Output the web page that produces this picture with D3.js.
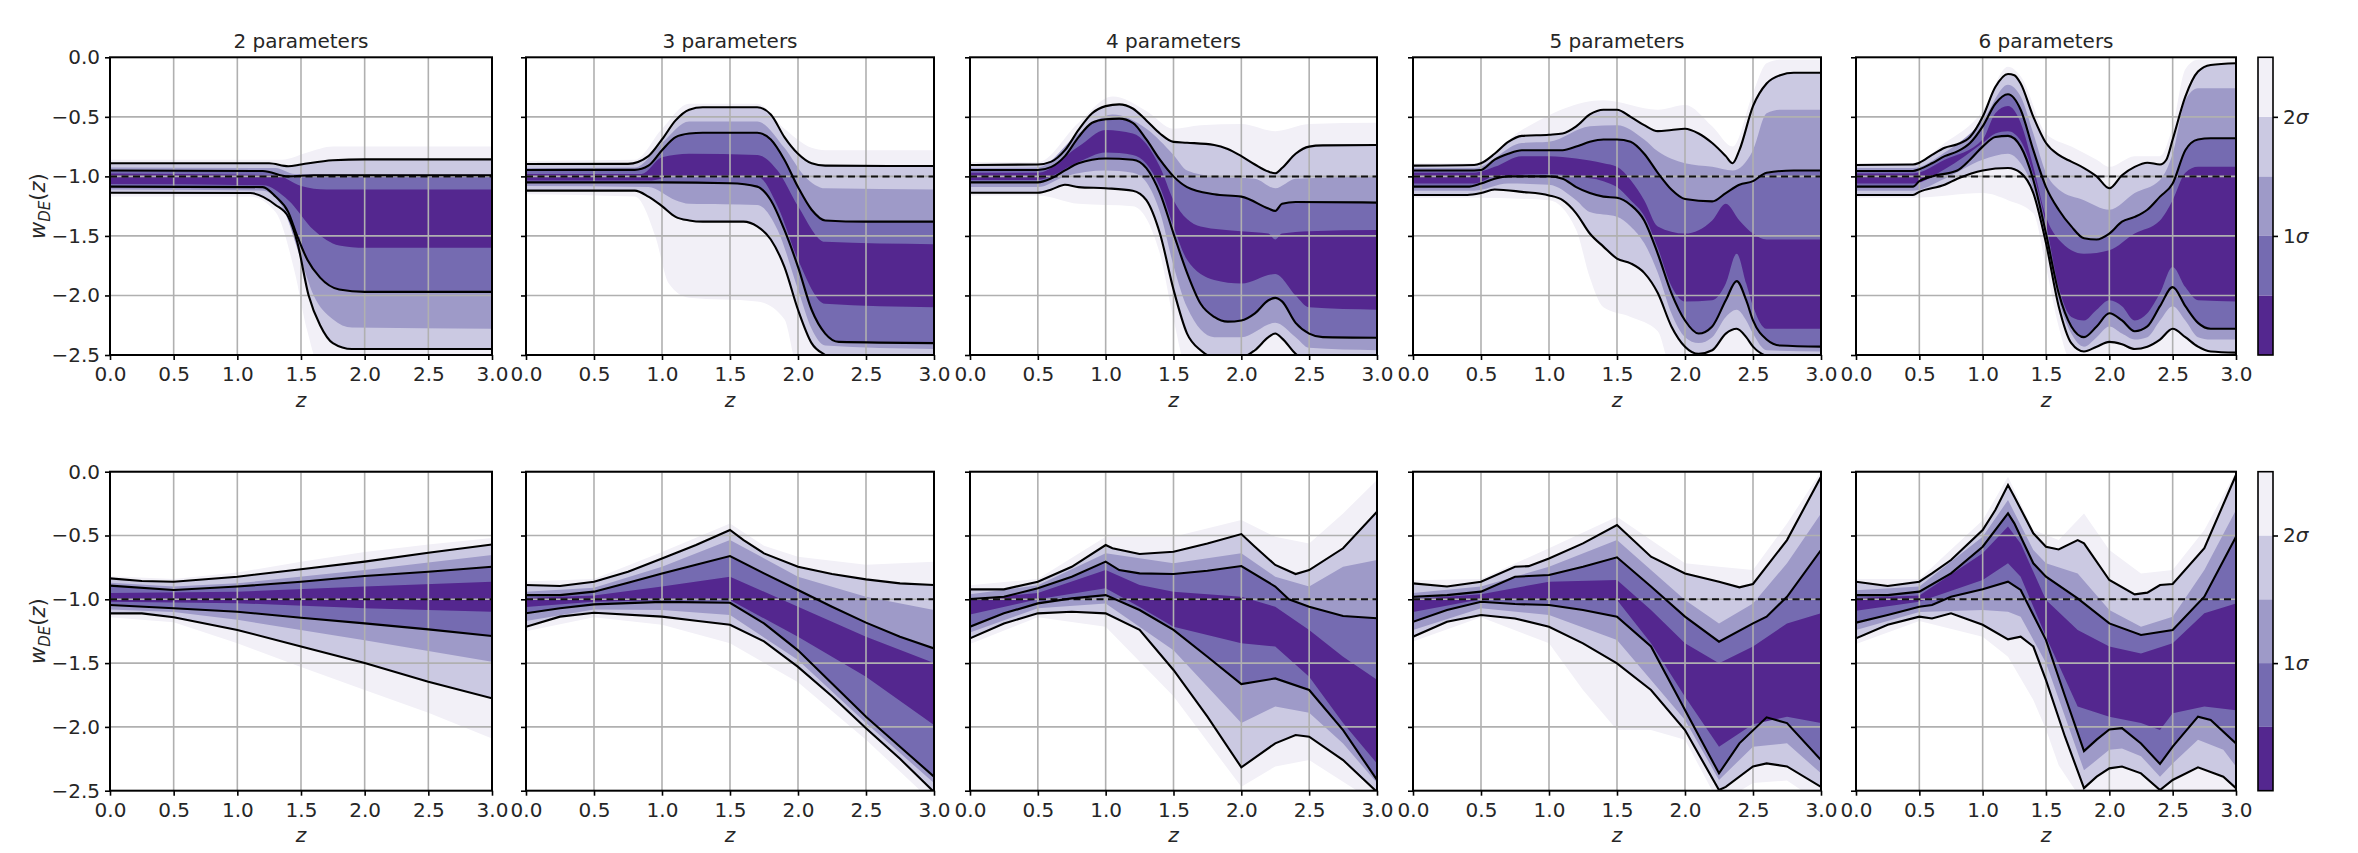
<!DOCTYPE html>
<html>
<head>
<meta charset="utf-8">
<script src="https://cdn.jsdelivr.net/npm/d3@7"></script>
<style>
  body { margin: 0; background: #fff; }
  text { font-family: "DejaVu Sans", sans-serif; fill: #262626; }
</style>
</head>
<body>
<script>

// DATA  (each band: [upper curve, lower curve], curves are [z, w] knots)

var titles = ['2 parameters', '3 parameters', '4 parameters', '5 parameters', '6 parameters'];
var zTicks = [0, 0.5, 1, 1.5, 2, 2.5, 3];
var wTicks = [0, -0.5, -1, -1.5, -2, -2.5];
var sigmaEdges = [0, 0.5, 1, 1.5, 2];
var sigmaTicks = [1, 2];

var T1 = {
  s25: [[[0,-0.86],[1.35,-0.86],[1.55,-0.8],[1.75,-0.75],[3,-0.75]],
        [[0,-1.17],[1.1,-1.17],[1.3,-1.3],[1.45,-1.8],[1.55,-2.3],[1.65,-2.6],[3,-2.6]]],
  s2:  [[[0,-0.89],[1.25,-0.89],[1.4,-0.915],[1.5,-0.9],[1.75,-0.865],[2,-0.857],[3,-0.857]],
        [[0,-1.137],[1.1,-1.14],[1.3,-1.24],[1.4,-1.34],[1.47,-1.55],[1.56,-2.0],[1.65,-2.25],[1.75,-2.4],[1.9,-2.45],[3,-2.45]]],
  s15: [[[0,-0.925],[1.3,-0.93],[1.45,-0.98],[3,-0.985]],
        [[0,-1.11],[1.2,-1.12],[1.35,-1.25],[1.5,-1.7],[1.6,-2.0],[1.75,-2.2],[1.9,-2.27],[3,-2.28]]],
  s1:  [[[0,-0.95],[1.2,-0.955],[1.4,-1.0],[1.6,-0.99],[3,-0.99]],
        [[0,-1.086],[1.2,-1.09],[1.3,-1.17],[1.4,-1.3],[1.47,-1.5],[1.55,-1.7],[1.65,-1.85],[1.8,-1.95],[2,-1.97],[3,-1.97]]],
  s05: [[[0,-0.975],[1.3,-0.99],[1.5,-1.08],[1.7,-1.11],[3,-1.11]],
        [[0,-1.065],[1.2,-1.075],[1.4,-1.2],[1.6,-1.45],[1.8,-1.58],[2,-1.6],[3,-1.6]]]
};

var T2 = {
  s25: [[[0,-0.87],[0.8,-0.86],[1.0,-0.6],[1.2,-0.39],[1.7,-0.39],[1.9,-0.6],[2.1,-0.76],[2.2,-0.78],[3,-0.78]],
        [[0,-1.15],[0.8,-1.17],[0.95,-1.5],[1.05,-1.9],[1.2,-2.02],[1.7,-2.05],[1.9,-2.2],[2.0,-2.6],[3,-2.6]]],
  s2:  [[[0,-0.896],[0.75,-0.895],[0.9,-0.83],[1.0,-0.69],[1.1,-0.53],[1.2,-0.44],[1.3,-0.42],[1.7,-0.42],[1.8,-0.48],[1.9,-0.67],[2.0,-0.81],[2.1,-0.89],[2.2,-0.91],[3,-0.913]],
        [[0,-1.12],[0.8,-1.12],[0.9,-1.17],[1.0,-1.25],[1.1,-1.34],[1.2,-1.37],[1.3,-1.38],[1.6,-1.38],[1.7,-1.42],[1.8,-1.53],[1.9,-1.76],[2.0,-2.12],[2.1,-2.4],[2.2,-2.5],[2.3,-2.56],[3,-2.56]]],
  s15: [[[0,-0.93],[0.8,-0.925],[1.0,-0.72],[1.2,-0.54],[1.7,-0.54],[1.9,-0.76],[2.05,-1.0],[2.2,-1.1],[3,-1.11]],
        [[0,-1.08],[0.9,-1.09],[1.1,-1.2],[1.2,-1.23],[1.7,-1.24],[1.85,-1.45],[2.0,-1.95],[2.1,-2.28],[2.2,-2.42],[3,-2.45]]],
  s1:  [[[0,-0.946],[0.8,-0.945],[0.9,-0.91],[1.0,-0.78],[1.1,-0.67],[1.2,-0.64],[1.3,-0.633],[1.7,-0.633],[1.8,-0.69],[1.9,-0.86],[2.0,-1.09],[2.1,-1.28],[2.2,-1.37],[2.5,-1.38],[3,-1.38]],
        [[0,-1.05],[1.0,-1.05],[1.5,-1.058],[1.7,-1.086],[1.8,-1.2],[1.9,-1.45],[2.0,-1.76],[2.1,-2.12],[2.2,-2.32],[2.3,-2.39],[3,-2.4]]],
  s05: [[[0,-0.98],[0.85,-0.98],[1.0,-0.84],[1.2,-0.81],[1.7,-0.82],[1.85,-0.95],[2.0,-1.25],[2.2,-1.55],[3,-1.57]],
        [[0,-1.035],[0.9,-1.035],[1.1,-1.0],[1.7,-1.0],[1.85,-1.25],[2.0,-1.7],[2.2,-2.07],[3,-2.1]]]
};

var T3 = {
  s25: [[[0,-0.88],[0.5,-0.88],[0.8,-0.55],[1.05,-0.33],[1.3,-0.45],[1.5,-0.6],[1.7,-0.57],[2.0,-0.56],[2.25,-0.62],[2.5,-0.56],[3,-0.55]],
        [[0,-1.16],[0.5,-1.16],[0.8,-1.23],[1.2,-1.25],[1.4,-1.65],[1.5,-2.2],[1.6,-2.6],[3,-2.6]]],
  s2:  [[[0,-0.904],[0.5,-0.9],[0.6,-0.876],[0.7,-0.78],[0.8,-0.61],[0.9,-0.47],[1.0,-0.41],[1.1,-0.395],[1.2,-0.43],[1.3,-0.53],[1.4,-0.64],[1.5,-0.71],[1.6,-0.717],[1.8,-0.736],[1.9,-0.77],[2.0,-0.83],[2.1,-0.9],[2.2,-0.96],[2.25,-0.974],[2.3,-0.93],[2.4,-0.81],[2.5,-0.75],[2.6,-0.74],[3,-0.736]],
        [[0,-1.137],[0.5,-1.137],[0.6,-1.11],[0.7,-1.07],[0.8,-1.09],[1.0,-1.1],[1.2,-1.12],[1.3,-1.2],[1.4,-1.48],[1.5,-1.95],[1.6,-2.32],[1.7,-2.46],[1.8,-2.52],[2.0,-2.52],[2.1,-2.46],[2.2,-2.35],[2.25,-2.32],[2.3,-2.36],[2.4,-2.49],[2.5,-2.56],[3,-2.6]]],
  s15: [[[0,-0.93],[0.5,-0.925],[0.8,-0.64],[1.05,-0.48],[1.3,-0.6],[1.5,-0.82],[1.6,-0.95],[1.8,-1.0],[2.1,-1.02],[2.25,-1.1],[2.4,-1.02],[3,-1.0]],
        [[0,-1.09],[0.5,-1.09],[0.7,-1.0],[1.0,-0.95],[1.2,-0.97],[1.3,-1.05],[1.4,-1.3],[1.5,-1.75],[1.6,-2.1],[1.8,-2.35],[2.0,-2.35],[2.25,-2.23],[2.4,-2.35],[2.5,-2.44],[3,-2.46]]],
  s1:  [[[0,-0.946],[0.5,-0.946],[0.6,-0.92],[0.7,-0.83],[0.8,-0.67],[0.9,-0.55],[1.0,-0.52],[1.1,-0.515],[1.2,-0.55],[1.3,-0.69],[1.4,-0.86],[1.5,-1.0],[1.6,-1.09],[1.8,-1.15],[2.0,-1.17],[2.2,-1.27],[2.25,-1.29],[2.3,-1.23],[2.4,-1.215],[3,-1.22]],
        [[0,-1.05],[0.5,-1.05],[0.6,-1.016],[0.7,-0.95],[0.8,-0.89],[1.0,-0.85],[1.2,-0.86],[1.3,-0.93],[1.4,-1.14],[1.5,-1.48],[1.6,-1.81],[1.7,-2.07],[1.8,-2.18],[1.9,-2.22],[2.0,-2.21],[2.1,-2.15],[2.2,-2.04],[2.25,-2.02],[2.3,-2.05],[2.4,-2.23],[2.5,-2.32],[2.6,-2.35],[3,-2.355]]],
  s05: [[[0,-0.97],[0.5,-0.97],[0.8,-0.75],[1.0,-0.61],[1.2,-0.64],[1.4,-0.92],[1.5,-1.2],[1.7,-1.42],[2.0,-1.46],[2.2,-1.48],[2.25,-1.53],[2.3,-1.48],[2.5,-1.46],[3,-1.45]],
        [[0,-1.03],[0.5,-1.03],[0.8,-0.88],[1.0,-0.8],[1.2,-0.82],[1.4,-1.09],[1.5,-1.42],[1.6,-1.7],[1.8,-1.87],[2.0,-1.9],[2.25,-1.82],[2.4,-2.0],[2.5,-2.1],[3,-2.12]]]
};

var T4 = {
  s25: [[[0,-0.89],[0.45,-0.89],[0.8,-0.61],[1.4,-0.36],[1.8,-0.44],[2.0,-0.4],[2.2,-0.58],[2.35,-0.75],[2.5,-0.3],[2.6,-0.05],[2.7,-0.02],[3,-0.02]],
        [[0,-1.18],[0.45,-1.18],[1.0,-1.2],[1.2,-1.45],[1.3,-1.85],[1.4,-2.1],[1.6,-2.18],[1.8,-2.3],[1.9,-2.6],[3,-2.6]]],
  s2:  [[[0,-0.91],[0.45,-0.905],[0.5,-0.89],[0.6,-0.81],[0.7,-0.71],[0.8,-0.66],[1.0,-0.65],[1.1,-0.64],[1.2,-0.58],[1.3,-0.48],[1.4,-0.44],[1.5,-0.44],[1.6,-0.5],[1.7,-0.57],[1.8,-0.62],[1.9,-0.61],[2.0,-0.6],[2.1,-0.64],[2.2,-0.72],[2.3,-0.83],[2.35,-0.89],[2.4,-0.78],[2.5,-0.41],[2.6,-0.22],[2.7,-0.15],[2.8,-0.13],[3,-0.13]],
        [[0,-1.156],[0.4,-1.156],[0.5,-1.14],[0.6,-1.11],[0.8,-1.13],[1.0,-1.16],[1.1,-1.2],[1.2,-1.31],[1.3,-1.48],[1.4,-1.59],[1.5,-1.69],[1.6,-1.73],[1.7,-1.81],[1.8,-1.98],[1.9,-2.26],[2.0,-2.43],[2.1,-2.49],[2.2,-2.46],[2.3,-2.32],[2.38,-2.28],[2.45,-2.35],[2.5,-2.43],[2.6,-2.51],[3,-2.6]]],
  s15: [[[0,-0.93],[0.45,-0.93],[0.8,-0.72],[1.0,-0.71],[1.3,-0.58],[1.5,-0.57],[1.7,-0.69],[1.8,-0.79],[2.0,-0.89],[2.2,-0.92],[2.35,-0.95],[2.5,-0.78],[2.6,-0.47],[2.7,-0.44],[3,-0.44]],
        [[0,-1.12],[0.45,-1.12],[0.7,-1.06],[1.0,-1.07],[1.2,-1.2],[1.3,-1.3],[1.5,-1.34],[1.6,-1.42],[1.7,-1.56],[1.8,-1.81],[1.9,-2.15],[2.0,-2.35],[2.1,-2.4],[2.2,-2.35],[2.3,-2.18],[2.38,-2.12],[2.45,-2.21],[2.5,-2.32],[2.6,-2.46],[3,-2.47]]],
  s1:  [[[0,-0.95],[0.45,-0.95],[0.5,-0.946],[0.6,-0.86],[0.7,-0.81],[0.8,-0.78],[1.1,-0.78],[1.2,-0.75],[1.3,-0.71],[1.4,-0.69],[1.5,-0.69],[1.6,-0.71],[1.7,-0.81],[1.8,-0.97],[1.9,-1.11],[2.0,-1.19],[2.2,-1.21],[2.3,-1.14],[2.4,-1.07],[2.5,-1.04],[2.6,-0.97],[2.8,-0.95],[3,-0.95]],
        [[0,-1.086],[0.4,-1.086],[0.5,-1.06],[0.6,-1.02],[0.7,-1.0],[1.0,-1.0],[1.1,-1.02],[1.2,-1.09],[1.3,-1.14],[1.4,-1.17],[1.5,-1.18],[1.6,-1.24],[1.7,-1.37],[1.8,-1.65],[1.9,-1.98],[2.0,-2.21],[2.1,-2.32],[2.2,-2.26],[2.3,-2.04],[2.38,-1.88],[2.45,-2.04],[2.5,-2.21],[2.6,-2.37],[2.7,-2.42],[3,-2.43]]],
  s05: [[[0,-0.97],[0.45,-0.97],[0.6,-0.92],[0.8,-0.83],[1.0,-0.83],[1.2,-0.85],[1.4,-0.89],[1.5,-0.92],[1.6,-1.03],[1.7,-1.2],[1.8,-1.42],[2.0,-1.48],[2.2,-1.37],[2.3,-1.23],[2.4,-1.37],[2.5,-1.48],[2.6,-1.53],[3,-1.53]],
        [[0,-1.06],[0.45,-1.06],[0.6,-1.0],[1.0,-0.98],[1.2,-1.0],[1.4,-1.04],[1.5,-1.09],[1.6,-1.2],[1.7,-1.33],[1.8,-1.6],[1.9,-1.92],[2.0,-2.05],[2.2,-2.04],[2.3,-1.9],[2.38,-1.65],[2.45,-1.9],[2.5,-2.09],[2.6,-2.28],[3,-2.28]]]
};

var T5 = {
  s25: [[[0,-0.89],[0.45,-0.89],[0.7,-0.72],[1.0,-0.45],[1.2,-0.08],[1.3,-0.16],[1.5,-0.64],[1.7,-0.75],[1.9,-0.86],[2.0,-0.92],[2.2,-0.83],[2.4,-0.83],[2.5,-0.58],[2.6,-0.1],[2.7,-0.02],[3,-0.02]],
        [[0,-1.18],[0.45,-1.18],[1.0,-1.14],[1.2,-1.2],[1.4,-1.31],[1.5,-1.76],[1.6,-2.26],[1.7,-2.55],[3,-2.55]]],
  s2:  [[[0,-0.904],[0.45,-0.9],[0.5,-0.885],[0.6,-0.82],[0.7,-0.76],[0.8,-0.73],[0.9,-0.67],[1.0,-0.5],[1.1,-0.25],[1.2,-0.14],[1.25,-0.15],[1.3,-0.22],[1.4,-0.5],[1.5,-0.72],[1.6,-0.82],[1.7,-0.876],[1.8,-0.93],[1.9,-1.0],[2.0,-1.1],[2.1,-0.99],[2.2,-0.92],[2.3,-0.885],[2.4,-0.9],[2.45,-0.86],[2.5,-0.69],[2.6,-0.33],[2.7,-0.12],[2.8,-0.064],[3,-0.05]],
        [[0,-1.156],[0.45,-1.156],[0.5,-1.13],[0.7,-1.07],[0.8,-1.02],[1.0,-0.95],[1.2,-0.93],[1.3,-0.97],[1.4,-1.14],[1.5,-1.56],[1.6,-2.09],[1.7,-2.4],[1.8,-2.47],[1.9,-2.43],[2.0,-2.39],[2.1,-2.41],[2.2,-2.45],[2.3,-2.43],[2.4,-2.37],[2.5,-2.28],[2.6,-2.35],[2.7,-2.43],[2.8,-2.47],[3,-2.48]]],
  s15: [[[0,-0.93],[0.45,-0.93],[0.7,-0.8],[1.0,-0.53],[1.2,-0.23],[1.3,-0.33],[1.4,-0.64],[1.5,-0.97],[1.6,-1.11],[1.8,-1.2],[2.0,-1.28],[2.2,-1.14],[2.4,-1.03],[2.5,-0.81],[2.6,-0.36],[2.7,-0.26],[3,-0.26]],
        [[0,-1.12],[0.45,-1.12],[0.7,-1.02],[1.0,-0.86],[1.2,-0.81],[1.3,-0.89],[1.4,-1.11],[1.5,-1.53],[1.6,-2.04],[1.7,-2.32],[1.8,-2.43],[1.9,-2.35],[2.0,-2.26],[2.1,-2.32],[2.2,-2.37],[2.3,-2.35],[2.4,-2.21],[2.5,-2.09],[2.6,-2.21],[2.7,-2.35],[2.8,-2.37],[3,-2.37]]],
  s1:  [[[0,-0.955],[0.45,-0.955],[0.5,-0.94],[0.6,-0.89],[0.7,-0.83],[0.8,-0.79],[0.9,-0.72],[1.0,-0.58],[1.1,-0.39],[1.2,-0.31],[1.3,-0.44],[1.4,-0.78],[1.5,-1.09],[1.6,-1.28],[1.7,-1.42],[1.8,-1.52],[1.9,-1.53],[2.0,-1.48],[2.1,-1.38],[2.2,-1.34],[2.3,-1.28],[2.4,-1.17],[2.5,-1.06],[2.6,-0.78],[2.7,-0.69],[2.8,-0.68],[3,-0.68]],
        [[0,-1.086],[0.45,-1.086],[0.5,-1.04],[0.6,-1.0],[0.8,-0.95],[0.9,-0.86],[1.0,-0.75],[1.1,-0.67],[1.2,-0.66],[1.3,-0.75],[1.4,-1.03],[1.5,-1.48],[1.6,-1.98],[1.7,-2.26],[1.8,-2.35],[1.9,-2.26],[2.0,-2.15],[2.1,-2.21],[2.2,-2.3],[2.3,-2.26],[2.4,-2.09],[2.5,-1.93],[2.6,-2.09],[2.7,-2.23],[2.8,-2.28],[3,-2.28]]],
  s05: [[[0,-0.975],[0.45,-0.975],[0.7,-0.86],[1.0,-0.69],[1.1,-0.47],[1.2,-0.41],[1.3,-0.55],[1.4,-0.92],[1.5,-1.34],[1.6,-1.53],[1.8,-1.65],[2.0,-1.62],[2.2,-1.48],[2.4,-1.37],[2.5,-1.2],[2.6,-0.97],[2.7,-0.92],[3,-0.92]],
        [[0,-1.06],[0.45,-1.06],[0.7,-0.94],[1.0,-0.72],[1.1,-0.64],[1.2,-0.62],[1.3,-0.7],[1.4,-0.98],[1.5,-1.4],[1.6,-1.93],[1.7,-2.18],[1.8,-2.21],[1.9,-2.12],[2.0,-2.04],[2.1,-2.09],[2.2,-2.21],[2.3,-2.15],[2.4,-1.98],[2.5,-1.76],[2.6,-1.93],[2.7,-2.04],[3,-2.05]]]
};

var B1 = {
  s25: [[[0,-0.82],[0.5,-0.84],[1.0,-0.79],[1.5,-0.705],[2.0,-0.63],[2.5,-0.57],[3,-0.52]],
        [[0,-1.14],[0.5,-1.18],[1.0,-1.345],[1.5,-1.53],[2.0,-1.71],[2.5,-1.89],[3,-2.09]]],
  s2:  [[[0,-0.836],[0.25,-0.857],[0.5,-0.862],[1.0,-0.823],[1.5,-0.765],[2.0,-0.705],[2.5,-0.635],[3,-0.57]],
        [[0,-1.11],[0.25,-1.11],[0.5,-1.14],[1.0,-1.24],[1.5,-1.37],[2.0,-1.5],[2.5,-1.646],[3,-1.776]]],
  s15: [[[0,-0.87],[0.5,-0.9],[1.0,-0.875],[2.0,-0.77],[3,-0.653]],
        [[0,-1.08],[0.5,-1.1],[1.0,-1.16],[2.0,-1.32],[3,-1.49]]],
  s1:  [[[0,-0.893],[0.5,-0.927],[1.0,-0.9],[1.5,-0.862],[2.0,-0.818],[2.5,-0.784],[3,-0.745]],
        [[0,-1.045],[0.5,-1.07],[1.0,-1.097],[1.5,-1.144],[2.0,-1.189],[2.5,-1.236],[3,-1.288]]],
  s05: [[[0,-0.95],[1.0,-0.94],[2.0,-0.9],[3,-0.862]],
        [[0,-1.02],[1.0,-1.03],[2.0,-1.07],[3,-1.097]]]
};

var B2 = {
  s25: [[[0,-0.86],[0.5,-0.84],[1.0,-0.63],[1.5,-0.405],[1.75,-0.58],[2.0,-0.666],[2.5,-0.73],[3,-0.705]],
        [[0,-1.25],[0.5,-1.14],[1.0,-1.2],[1.5,-1.345],[2.0,-1.65],[2.5,-2.1],[3,-2.6]]],
  s2:  [[[0,-0.888],[0.25,-0.896],[0.5,-0.862],[0.75,-0.784],[1.0,-0.68],[1.25,-0.575],[1.5,-0.457],[1.6,-0.536],[1.75,-0.64],[2.0,-0.745],[2.25,-0.802],[2.5,-0.844],[2.75,-0.875],[3,-0.888]],
        [[0,-1.215],[0.25,-1.136],[0.5,-1.105],[1.0,-1.136],[1.25,-1.168],[1.5,-1.2],[1.75,-1.33],[2.0,-1.53],[2.25,-1.76],[2.5,-2.01],[2.75,-2.25],[3,-2.51]]],
  s15: [[[0,-0.94],[0.5,-0.91],[1.0,-0.745],[1.5,-0.535],[2.0,-0.823],[2.5,-0.98],[3,-1.084]],
        [[0,-1.17],[0.5,-1.08],[1.0,-1.084],[1.5,-1.123],[2.0,-1.476],[2.5,-1.97],[3,-2.44]]],
  s1:  [[[0,-0.967],[0.25,-0.967],[0.5,-0.94],[0.75,-0.87],[1.0,-0.797],[1.25,-0.73],[1.5,-0.661],[1.75,-0.797],[2.0,-0.927],[2.25,-1.058],[2.5,-1.183],[2.75,-1.293],[3,-1.385]],
        [[0,-1.11],[0.25,-1.07],[0.5,-1.04],[1.0,-1.02],[1.5,-1.027],[1.75,-1.189],[2.0,-1.4],[2.25,-1.66],[2.5,-1.92],[2.75,-2.155],[3,-2.39]]],
  s05: [[[0,-0.99],[0.5,-0.97],[1.0,-0.9],[1.5,-0.823],[2.0,-1.058],[2.5,-1.293],[3,-1.5]],
        [[0,-1.06],[0.5,-1.02],[1.0,-1.006],[1.5,-1.006],[2.0,-1.293],[2.5,-1.607],[3,-1.985]]]
};

var B3 = {
  s25: [[[0,-0.89],[0.5,-0.84],[1.0,-0.51],[1.5,-0.51],[2.0,-0.379],[2.25,-0.51],[2.5,-0.562],[2.75,-0.327],[3,-0.065]],
        [[0,-1.35],[0.5,-1.14],[1.0,-1.215],[1.5,-1.76],[2.0,-2.47],[2.25,-2.31],[2.5,-2.26],[3,-2.6]]],
  s2:  [[[0,-0.922],[0.25,-0.922],[0.5,-0.862],[0.75,-0.745],[1.0,-0.575],[1.05,-0.6],[1.25,-0.645],[1.5,-0.627],[1.75,-0.562],[2.0,-0.489],[2.1,-0.588],[2.25,-0.731],[2.4,-0.802],[2.5,-0.771],[2.75,-0.6],[3,-0.313]],
        [[0,-1.306],[0.25,-1.189],[0.5,-1.11],[0.75,-1.097],[1.0,-1.11],[1.25,-1.24],[1.5,-1.554],[1.75,-1.92],[2.0,-2.317],[2.25,-2.129],[2.4,-2.064],[2.5,-2.077],[2.75,-2.26],[3,-2.51]]],
  s15: [[[0,-0.96],[0.5,-0.89],[1.0,-0.64],[1.5,-0.718],[2.0,-0.64],[2.25,-0.823],[2.5,-0.9],[2.75,-0.745],[3,-0.692]],
        [[0,-1.26],[0.5,-1.07],[1.0,-1.032],[1.5,-1.4],[2.0,-1.97],[2.25,-1.84],[2.5,-1.89],[2.75,-2.13],[3,-2.44]]],
  s1:  [[[0,-0.998],[0.25,-0.98],[0.5,-0.914],[0.75,-0.823],[1.0,-0.705],[1.1,-0.771],[1.25,-0.797],[1.5,-0.802],[1.75,-0.776],[2.0,-0.739],[2.25,-0.9],[2.35,-1.0],[2.5,-1.058],[2.75,-1.131],[3,-1.149]],
        [[0,-1.215],[0.25,-1.11],[0.5,-1.032],[0.75,-0.993],[1.0,-0.967],[1.25,-1.084],[1.5,-1.24],[1.75,-1.45],[2.0,-1.664],[2.25,-1.62],[2.5,-1.711],[2.75,-2.025],[3,-2.416]]],
  s05: [[[0,-1.0],[0.5,-0.95],[1.0,-0.771],[1.25,-0.888],[1.5,-0.94],[2.0,-0.98],[2.25,-1.058],[2.5,-1.24],[2.75,-1.45],[3,-1.63]],
        [[0,-1.12],[0.5,-1.0],[1.0,-0.914],[1.25,-1.06],[1.5,-1.215],[2.0,-1.345],[2.25,-1.37],[2.5,-1.607],[2.75,-1.97],[3,-2.286]]]
};

var B4 = {
  s25: [[[0,-0.85],[0.5,-0.84],[1.0,-0.6],[1.5,-0.353],[2.0,-0.718],[2.25,-0.745],[2.5,-0.771],[2.75,-0.405],[3,0]],
        [[0,-1.33],[0.5,-1.14],[1.0,-1.345],[1.25,-1.711],[1.5,-2.025],[1.75,-2.025],[2.0,-2.1],[2.25,-2.6],[2.5,-2.44],[2.75,-2.42],[3,-2.6]]],
  s2:  [[[0,-0.875],[0.25,-0.9],[0.5,-0.862],[0.75,-0.745],[0.85,-0.74],[1.0,-0.68],[1.25,-0.562],[1.5,-0.418],[1.75,-0.666],[2.0,-0.797],[2.25,-0.862],[2.4,-0.906],[2.5,-0.88],[2.75,-0.536],[3,-0.039]],
        [[0,-1.293],[0.25,-1.176],[0.5,-1.123],[0.75,-1.15],[1.0,-1.215],[1.25,-1.345],[1.5,-1.502],[1.75,-1.711],[2.0,-2.025],[2.25,-2.495],[2.3,-2.47],[2.5,-2.31],[2.6,-2.286],[2.75,-2.31],[3,-2.47]]],
  s15: [[[0,-0.95],[0.5,-0.9],[1.0,-0.745],[1.5,-0.536],[2.0,-1.006],[2.25,-1.189],[2.5,-1.032],[2.75,-0.718],[3,-0.327]],
        [[0,-1.24],[0.5,-1.07],[1.0,-1.123],[1.5,-1.319],[2.0,-1.946],[2.25,-2.416],[2.5,-2.155],[2.75,-2.129],[3,-2.364]]],
  s1:  [[[0,-0.98],[0.25,-0.967],[0.5,-0.94],[0.75,-0.823],[1.0,-0.81],[1.25,-0.745],[1.5,-0.671],[1.75,-0.9],[2.0,-1.136],[2.25,-1.332],[2.5,-1.189],[2.6,-1.136],[2.75,-0.98],[3,-0.614]],
        [[0,-1.176],[0.25,-1.084],[0.5,-1.019],[0.75,-1.037],[1.0,-1.045],[1.25,-1.084],[1.5,-1.136],[1.75,-1.37],[2.0,-1.868],[2.25,-2.364],[2.4,-2.129],[2.6,-1.925],[2.75,-1.97],[3,-2.26]]],
  s05: [[[0,-1.0],[0.5,-0.96],[1.0,-0.862],[1.5,-0.849],[1.75,-1.084],[2.0,-1.345],[2.25,-1.502],[2.5,-1.37],[2.75,-1.189],[3,-1.11]],
        [[0,-1.1],[0.5,-1.0],[1.0,-1.006],[1.5,-1.006],[1.75,-1.345],[2.0,-1.763],[2.25,-2.155],[2.5,-1.98],[2.75,-1.92],[3,-1.97]]]
};

var B5 = {
  s25: [[[0,-0.84],[0.5,-0.84],[1.0,-0.38],[1.2,-0.04],[1.4,-0.457],[1.6,-0.536],[1.8,-0.327],[2.0,-0.614],[2.25,-0.797],[2.5,-0.771],[2.75,-0.457],[3,0]],
        [[0,-1.35],[0.5,-1.17],[1.0,-1.293],[1.2,-1.45],[1.4,-1.79],[1.5,-2.02],[1.6,-2.3],[1.8,-2.6],[3,-2.6]]],
  s2:  [[[0,-0.862],[0.25,-0.896],[0.5,-0.862],[0.6,-0.797],[0.75,-0.692],[1.0,-0.457],[1.1,-0.3],[1.2,-0.104],[1.25,-0.196],[1.4,-0.483],[1.5,-0.588],[1.6,-0.609],[1.75,-0.536],[1.8,-0.562],[2.0,-0.849],[2.2,-0.961],[2.3,-0.948],[2.4,-0.888],[2.5,-0.88],[2.75,-0.6],[3,-0.026]],
        [[0,-1.306],[0.25,-1.2],[0.5,-1.136],[0.6,-1.15],[0.75,-1.11],[1.0,-1.2],[1.2,-1.314],[1.3,-1.293],[1.4,-1.37],[1.5,-1.633],[1.65,-2.077],[1.8,-2.48],[1.9,-2.39],[2.0,-2.325],[2.1,-2.31],[2.25,-2.364],[2.4,-2.495],[2.5,-2.416],[2.7,-2.317],[2.9,-2.39],[3,-2.48]]],
  s15: [[[0,-0.93],[0.5,-0.9],[1.0,-0.51],[1.2,-0.222],[1.4,-0.614],[1.5,-0.718],[1.75,-0.797],[2.0,-1.084],[2.25,-1.215],[2.5,-1.136],[2.75,-0.771],[3,-0.3]],
        [[0,-1.24],[0.5,-1.1],[1.0,-1.084],[1.2,-1.097],[1.3,-1.136],[1.5,-1.5],[1.8,-2.34],[2.0,-2.18],[2.1,-2.17],[2.25,-2.23],[2.4,-2.39],[2.5,-2.286],[2.7,-2.1],[2.9,-2.18],[3,-2.31]]],
  s1:  [[[0,-0.967],[0.25,-0.967],[0.5,-0.94],[0.75,-0.797],[1.0,-0.588],[1.2,-0.327],[1.25,-0.405],[1.4,-0.718],[1.5,-0.823],[1.75,-0.993],[2.0,-1.189],[2.25,-1.28],[2.5,-1.241],[2.75,-0.98],[3,-0.509]],
        [[0,-1.183],[0.25,-1.123],[0.5,-1.058],[0.6,-1.045],[0.75,-0.98],[1.0,-0.922],[1.2,-0.862],[1.3,-0.927],[1.5,-1.32],[1.65,-1.76],[1.8,-2.19],[1.9,-2.1],[2.0,-2.02],[2.1,-2.01],[2.25,-2.13],[2.4,-2.29],[2.5,-2.155],[2.7,-1.92],[2.8,-1.946],[3,-2.13]]],
  s05: [[[0,-0.99],[0.5,-0.97],[1.0,-0.64],[1.2,-0.43],[1.3,-0.562],[1.5,-1.006],[1.75,-1.241],[2.0,-1.37],[2.25,-1.424],[2.5,-1.345],[2.75,-1.11],[3,-1.032]],
        [[0,-1.09],[0.5,-1.02],[1.0,-0.849],[1.2,-0.718],[1.3,-0.823],[1.5,-1.293],[1.75,-1.84],[2.0,-1.92],[2.25,-1.97],[2.4,-2.025],[2.5,-1.894],[2.75,-1.84],[3,-1.87]]]
};

var topRow = [T1, T2, T3, T4, T5];
var bottomRow = [B1, B2, B3, B4, B5];

// LAYOUT

var W = 2358, H = 853;
var colX = [[110, 492], [526, 934], [970, 1377], [1413, 1821], [1856, 2236]];
var rowY = [[57.3, 355], [471.7, 790.7]];
var cbX = [2258, 2273];
var levels = ['s25', 's2', 's15', 's1', 's05'];
var levelColor = { s25: '#f2f0f7', s2: '#cbc9e2', s15: '#9e9ac8', s1: '#756bb1', s05: '#54278f' };
var edgeColor = ['#54278f', '#756bb1', '#9e9ac8', '#cbc9e2', '#f2f0f7'];
var FONT = 20;

var svg = d3.select('body').append('svg')
  .attr('width', W)
  .attr('height', H);
var defs = svg.append('defs');

function styleAxis(g, showLabels) {
  g.select('.domain').remove();
  g.selectAll('.tick line').attr('stroke', '#000').attr('stroke-width', 1.6);
  g.selectAll('.tick text')
    .attr('font-size', FONT)
    .attr('font-family', 'DejaVu Sans')
    .attr('fill', '#262626');
  if (!showLabels) g.selectAll('.tick text').remove();
}

function drawPanel(r, c, data) {
  var x = d3.scaleLinear().domain([0, 3]).range(colX[c]);
  var y = d3.scaleLinear().domain([-2.5, 0]).range([rowY[r][1], rowY[r][0]]);
  var x0 = colX[c][0], x1 = colX[c][1], y0 = rowY[r][0], y1 = rowY[r][1];
  var id = 'p' + r + c;
  var curve = r === 0 ? d3.curveMonotoneX : d3.curveLinear;

  defs.append('clipPath').attr('id', id + 'box')
    .append('rect')
      .attr('x', x0).attr('y', y0)
      .attr('width', x1 - x0).attr('height', y1 - y0);

  var plot = svg.append('g').attr('clip-path', 'url(#' + id + 'box)');

  var above = d3.area().curve(curve)
    .x(function(d) { return x(d[0]); })
    .y0(y0 - 30)
    .y1(function(d) { return y(d[1]); });
  var below = d3.area().curve(curve)
    .x(function(d) { return x(d[0]); })
    .y0(y1 + 30)
    .y1(function(d) { return y(d[1]); });
  var line = d3.line().curve(curve)
    .x(function(d) { return x(d[0]); })
    .y(function(d) { return y(d[1]); });

  // BANDS: region under the upper curve, clipped to region over the lower curve
  levels.forEach(function(lv) {
    var up = data[lv][0], lo = data[lv][1];
    var cid = id + lv;
    defs.append('clipPath').attr('id', cid)
      .append('path').attr('d', above(lo));
    plot.append('path')
      .attr('d', below(up))
      .attr('fill', levelColor[lv])
      .attr('clip-path', 'url(#' + cid + ')');
  });

  // GRID
  plot.selectAll('line.vgrid').data(zTicks).enter().append('line')
    .attr('x1', x).attr('x2', x).attr('y1', y0).attr('y2', y1)
    .attr('stroke', '#b0b0b0').attr('stroke-width', 1.6);
  plot.selectAll('line.hgrid').data(wTicks).enter().append('line')
    .attr('y1', y).attr('y2', y).attr('x1', x0).attr('x2', x1)
    .attr('stroke', '#b0b0b0').attr('stroke-width', 1.6);

  // w = -1 reference
  plot.append('line')
    .attr('x1', x0).attr('x2', x1)
    .attr('y1', y(-1)).attr('y2', y(-1))
    .attr('stroke', '#111').attr('stroke-width', 2)
    .attr('stroke-dasharray', '7,4.5');

  // 1 and 2 sigma contours
  [data.s2[0], data.s1[0], data.s1[1], data.s2[1]].forEach(function(pts) {
    plot.append('path')
      .attr('d', line(pts))
      .attr('fill', 'none')
      .attr('stroke', '#000')
      .attr('stroke-width', 2.1);
  });

  // AXES
  var gx = svg.append('g')
    .attr('transform', 'translate(0,' + y1 + ')')
    .call(d3.axisBottom(x).tickValues(zTicks).tickFormat(d3.format('.1f')).tickSize(5).tickPadding(7));
  styleAxis(gx, true);

  var gy = svg.append('g')
    .attr('transform', 'translate(' + x0 + ',0)')
    .call(d3.axisLeft(y).tickValues(wTicks).tickFormat(d3.format('.1f')).tickSize(5).tickPadding(5));
  styleAxis(gy, c === 0);

  svg.append('rect')
    .attr('x', x0).attr('y', y0)
    .attr('width', x1 - x0).attr('height', y1 - y0)
    .attr('fill', 'none')
    .attr('stroke', '#000')
    .attr('stroke-width', 2);

  // LABELS
  svg.append('text')
    .attr('x', (x0 + x1) / 2)
    .attr('y', r === 0 ? 407 : 842)
    .attr('text-anchor', 'middle')
    .attr('font-size', FONT)
    .attr('font-style', 'italic')
    .text('z');

  if (r === 0) {
    svg.append('text')
      .attr('x', (x0 + x1) / 2)
      .attr('y', 48)
      .attr('text-anchor', 'middle')
      .attr('font-size', FONT)
      .text(titles[c]);
  }

  if (c === 0) {
    var yl = svg.append('text')
      .attr('transform', 'translate(45,' + ((y0 + y1) / 2) + ') rotate(-90)')
      .attr('text-anchor', 'middle')
      .attr('font-size', 21);
    yl.append('tspan').attr('font-style', 'italic').text('w');
    yl.append('tspan').attr('font-style', 'italic').attr('font-size', 15).attr('dy', 5).text('DE');
    yl.append('tspan').attr('dy', -5).text('(');
    yl.append('tspan').attr('font-style', 'italic').text('z');
    yl.append('tspan').text(')');
  }
}

function drawColorbar(r) {
  var y0 = rowY[r][0], y1 = rowY[r][1];
  var s = d3.scaleLinear().domain([0, 2.5]).range([y1, y0]);
  svg.selectAll(null).data(sigmaEdges).enter().append('rect')
    .attr('x', cbX[0])
    .attr('width', cbX[1] - cbX[0])
    .attr('y', function(d) { return s(d + 0.5); })
    .attr('height', function(d) { return s(d) - s(d + 0.5); })
    .attr('fill', function(d, i) { return edgeColor[i]; });
  svg.append('rect')
    .attr('x', cbX[0]).attr('y', y0)
    .attr('width', cbX[1] - cbX[0]).attr('height', y1 - y0)
    .attr('fill', 'none').attr('stroke', '#000').attr('stroke-width', 1.6);
  var ga = svg.append('g')
    .attr('transform', 'translate(' + cbX[1] + ',0)')
    .call(d3.axisRight(s).tickValues(sigmaTicks).tickFormat(function(d) { return d; }).tickSize(5).tickPadding(5));
  styleAxis(ga, true);
  ga.selectAll('.tick text').append('tspan').attr('font-style', 'italic').text('σ');
}

topRow.forEach(function(d, c) { drawPanel(0, c, d); });
bottomRow.forEach(function(d, c) { drawPanel(1, c, d); });
drawColorbar(0);
drawColorbar(1);

</script>
</body>
</html>
